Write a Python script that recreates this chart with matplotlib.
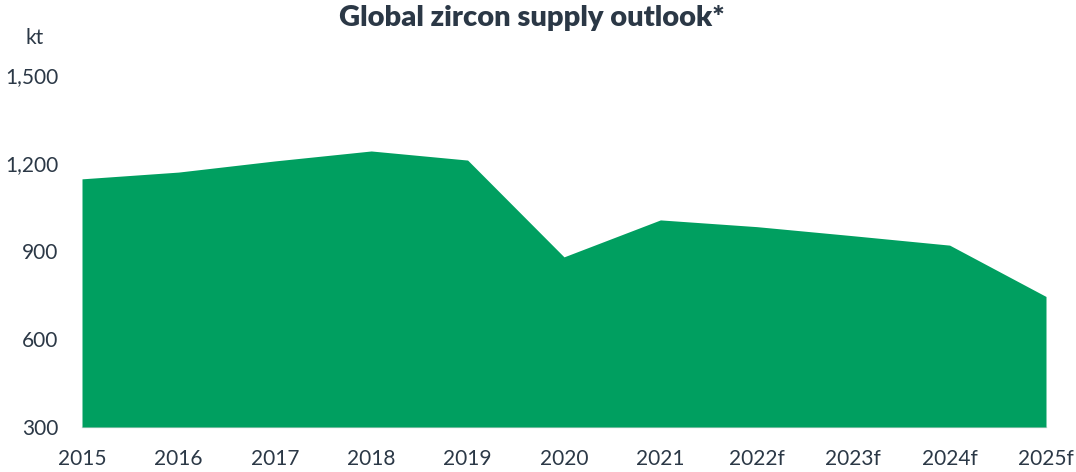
import matplotlib
matplotlib.use("Agg")
import matplotlib.pyplot as plt

years = ["2015", "2016", "2017", "2018", "2019", "2020", "2021", "2022f", "2023f", "2024f", "2025f"]
supply_kt = [1146, 1169, 1207, 1241, 1210, 880, 1006, 983, 952, 920, 745]
y_ticks = [300, 600, 900, 1200, 1500]
y_tick_labels = ["300", "600", "900", "1,200", "1,500"]

plt.rcParams['font.family'] = ['Lato', 'DejaVu Sans']
txt = '#2b3846'
green = '#009F60'

fig = plt.figure(figsize=(10.76, 4.72), dpi=100)
ax = fig.add_axes([82/1076, 45/472, 964/1076, 352/472])
x = list(range(len(years)))
ax.fill_between(x, 300, supply_kt, color=green, linewidth=0)
ax.set_xlim(0, len(years)-1)
ax.set_ylim(300, 1500)
ax.set_yticks(y_ticks)
ax.set_yticklabels(y_tick_labels)
ax.set_xticks(x)
ax.set_xticklabels(years)
for s in ['top', 'right', 'left']:
    ax.spines[s].set_visible(False)
ax.spines['bottom'].set_color('#d9d9d9')
ax.spines['bottom'].set_linewidth(1.0)
ax.spines['bottom'].set_zorder(0)
ax.tick_params(axis='both', length=0, labelsize=15, colors=txt)
ax.tick_params(axis='y', pad=17)
ax.tick_params(axis='x', pad=16)
fig.text(35/1076, 1-38/472, "kt", ha='center', va='center', fontsize=15, color=txt)
fig.text(532/1076, 1-18/472, "Global zircon supply outlook*", ha='center', va='center',
         fontsize=21, fontweight='heavy', color=txt)
fig.savefig("out.png", dpi=100)
